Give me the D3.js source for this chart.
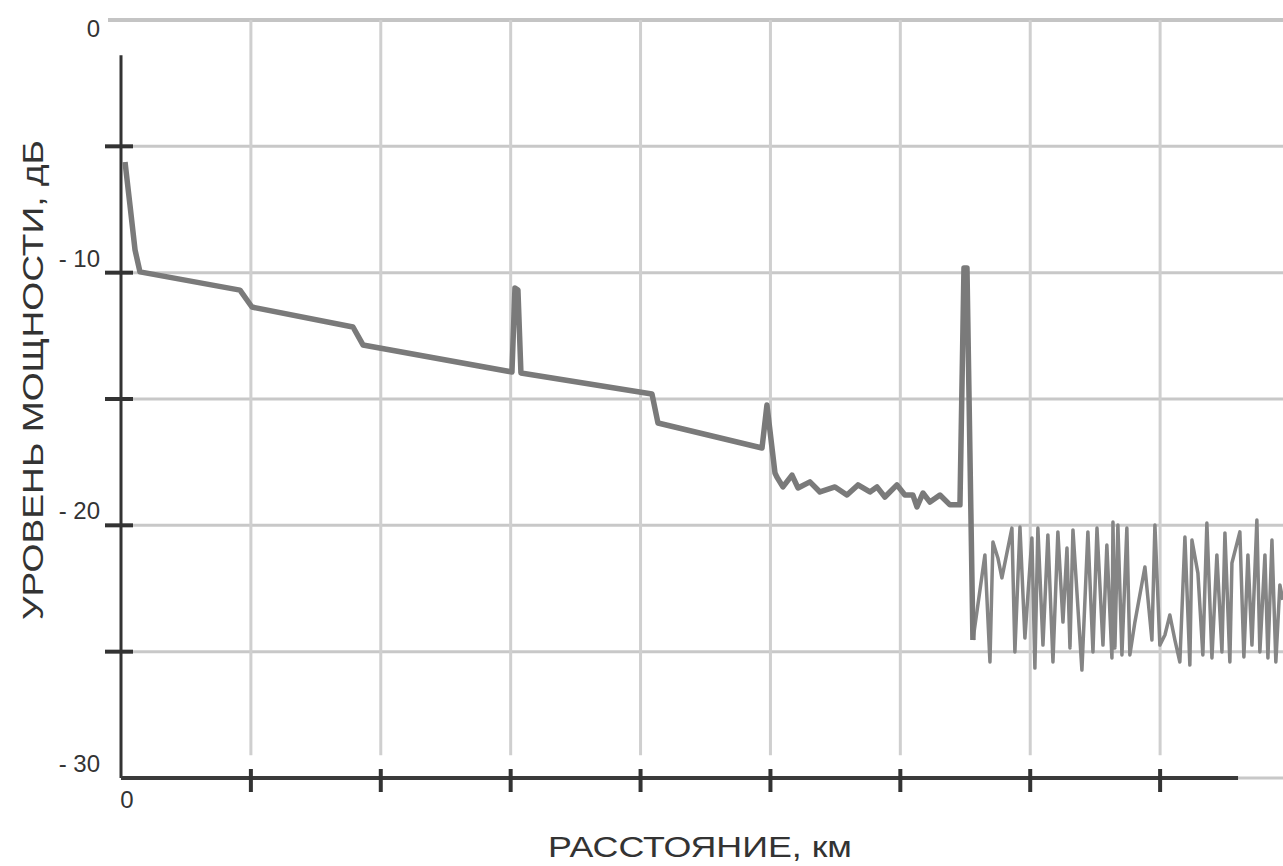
<!DOCTYPE html>
<html>
<head>
<meta charset="UTF-8" />
<title>Рефлектограмма</title>
<script src="https://cdn.jsdelivr.net/npm/d3@7"></script>
<style>
body{margin:0;background:#fff;}
text{font-family:"Liberation Sans",Arial,sans-serif;fill:#333;}
</style>
</head>
<body>
<div id="svg_container"></div>
<script type="text/javascript">
var w=1283,h=866;

var yTicks=[0,-5,-10,-15,-20,-25,-30];
var yTickLabels={'0':'0','-10':'- 10','-20':'- 20','-30':'- 30'};
var xTicks=[0,1,2,3,4,5,6,7,8];
var xTickLabels=['0'];

// основная часть трассы (до конца волокна)
var traceX=[0.031,0.069,0.108,0.146,0.916,1.008,1.786,1.863,3.010,3.033,3.056,3.079,4.088,4.134,4.935,4.973,5.035,
  5.050,5.096,5.166,5.212,5.304,5.381,5.497,5.589,5.674,5.766,5.820,5.881,5.974,6.035,6.097,6.128,6.174,6.228,6.305,6.382,6.459,
  6.490,6.513,6.559];
var traceY=[-5.62,-7.32,-9.10,-9.97,-10.69,-11.36,-12.15,-12.86,-13.93,-10.61,-10.69,-13.97,-14.80,-15.95,-16.94,-15.24,-17.93,
  -18.09,-18.48,-18.01,-18.52,-18.28,-18.68,-18.48,-18.80,-18.40,-18.68,-18.48,-18.88,-18.40,-18.80,-18.80,-19.27,-18.72,-19.08,-18.80,-19.19,-19.19,
  -9.82,-9.82,-24.54];

// шумы после конца волокна
var noiseX=[6.559,6.651,6.690,6.713,6.751,6.782,6.859,6.882,6.921,6.959,7.013,7.036,7.059,7.098,7.136,7.175,7.213,7.252,7.283,7.306,
  7.329,7.398,7.444,7.483,7.514,7.560,7.590,7.629,7.637,7.652,7.675,7.706,7.744,7.767,7.806,7.883,7.937,7.960,7.998,8.037,
  8.075,8.114,8.152,8.191,8.229,8.245,8.291,8.329,8.360,8.399,8.437,8.476,8.499,8.537,8.553,8.614,8.645,8.676,8.707,8.745,
  8.768,8.807,8.830,8.861,8.891,8.922,8.945];
var noiseY=[-24.54,-21.17,-25.41,-20.66,-21.29,-22.08,-20.11,-25.01,-20.07,-24.46,-20.50,-25.65,-20.11,-24.74,-20.38,-25.41,-20.26,-23.83,-20.90,-24.85,
  -20.18,-25.73,-20.26,-25.01,-20.11,-24.74,-20.78,-25.25,-19.87,-24.85,-19.99,-25.13,-20.11,-25.13,-23.83,-21.65,-24.54,-19.99,-24.74,-24.34,
  -23.55,-24.54,-25.41,-20.46,-25.53,-20.58,-21.89,-25.13,-19.91,-25.25,-21.17,-25.01,-20.30,-25.41,-21.49,-20.26,-25.21,-21.17,-24.74,-19.79,
  -25.01,-21.17,-25.25,-20.58,-25.41,-22.36,-22.95];

var x=d3.scaleLinear().domain([0,9]).range([121,1290]);
var y=d3.scaleLinear().domain([0,-30]).range([20,778]);

var svg=d3.select('#svg_container')
          .append('svg')
          .attr('width',w)
          .attr('height',h);

var defs=svg.append('defs');
function fade(id,x1,y1,x2,y2,color){
  var g=defs.append('linearGradient').attr('id',id)
    .attr('x1',x1).attr('y1',y1).attr('x2',x2).attr('y2',y2);
  g.append('stop').attr('offset','0%').attr('stop-color',color).attr('stop-opacity',0);
  g.append('stop').attr('offset','100%').attr('stop-color',color).attr('stop-opacity',1);
}
fade('fadeLeft',0,0,1,0,'#bbb');
fade('fadeUp',0,0,0,1,'#ccc');
fade('fadeDown',0,1,0,0,'#ddd');
fade('fadeRight',1,0,0,0,'#999');

// сетка
svg.selectAll('line.hgrid')
   .data(yTicks)
   .enter()
   .append('line')
   .attr('class','hgrid')
   .attr('x1',function(d){return d==0?x(-0.1):x(0);})
   .attr('x2',w)
   .attr('y1',function(d){return y(d);})
   .attr('y2',function(d){return y(d);})
   .attr('stroke',function(d){return d==0?'#c4c4c4':'#c8c8c8';})
   .attr('stroke-width',function(d){return d==0?4:3;});

svg.selectAll('line.hgridl')
   .data(yTicks.filter(function(d){return d<0 && d>-30;}))
   .enter()
   .append('line')
   .attr('x1',x(-0.35))
   .attr('x2',x(0))
   .attr('y1',function(d){return y(d);})
   .attr('y2',function(d){return y(d);})
   .attr('stroke','url(#fadeLeft)')
   .attr('stroke-width',3)
   .attr('opacity',0.5);

svg.selectAll('line.vgrid')
   .data(xTicks.slice(1))
   .enter()
   .append('line')
   .attr('x1',function(d){return x(d);})
   .attr('x2',function(d){return x(d);})
   .attr('y1',y(0))
   .attr('y2',y(-29.1))
   .attr('stroke','#cfcfcf')
   .attr('stroke-width',3);

// оси
svg.append('line')
   .attr('x1',x(0)).attr('x2',x(0))
   .attr('y1',y(-0.4)).attr('y2',y(-1.4))
   .attr('stroke','url(#fadeUp)').attr('stroke-width',3);
svg.append('line')
   .attr('x1',x(0)).attr('x2',x(0))
   .attr('y1',y(-1.4)).attr('y2',y(-30))
   .attr('stroke','#333').attr('stroke-width',3);
svg.append('line')
   .attr('x1',x(0)).attr('x2',x(0))
   .attr('y1',y(-30)).attr('y2',y(-32.5))
   .attr('stroke','url(#fadeDown)').attr('stroke-width',3);

svg.append('line')
   .attr('x1',8).attr('x2',x(0))
   .attr('y1',y(-30)).attr('y2',y(-30))
   .attr('stroke','url(#fadeLeft)').attr('stroke-width',4);
svg.append('line')
   .attr('x1',x(0)).attr('x2',x(8.6))
   .attr('y1',y(-30)).attr('y2',y(-30))
   .attr('stroke','#3a3a3a').attr('stroke-width',4);
svg.append('line')
   .attr('x1',x(8.6)).attr('x2',w)
   .attr('y1',y(-30)).attr('y2',y(-30))
   .attr('stroke','url(#fadeRight)').attr('stroke-width',3);

svg.selectAll('line.ytick')
   .data(yTicks.filter(function(d){return d<0 && d>-30;}))
   .enter()
   .append('line')
   .attr('x1',x(0)-16).attr('x2',x(0)+12)
   .attr('y1',function(d){return y(d);})
   .attr('y2',function(d){return y(d);})
   .attr('stroke','#333').attr('stroke-width',4);

svg.selectAll('line.xtick')
   .data(xTicks.slice(1))
   .enter()
   .append('line')
   .attr('x1',function(d){return x(d);})
   .attr('x2',function(d){return x(d);})
   .attr('y1',y(-30)-9).attr('y2',y(-30)+14)
   .attr('stroke','#333').attr('stroke-width',4);

// подписи делений
svg.selectAll('text.ylab')
   .data(yTicks.filter(function(d){return yTickLabels[String(d)];}))
   .enter()
   .append('text')
   .text(function(d){return yTickLabels[String(d)];})
   .attr('x',x(0)-21)
   .attr('y',function(d){return d==0?y(d)+17:y(d)-6;})
   .attr('text-anchor','end')
   .attr('font-size','24px');

svg.selectAll('text.xlab')
   .data(xTickLabels)
   .enter()
   .append('text')
   .text(function(d){return d;})
   .attr('x',x(0)+6)
   .attr('y',y(-30)+30)
   .attr('text-anchor','middle')
   .attr('font-size','24px');

svg.append('text')
   .text('УРОВЕНЬ МОЩНОСТИ, дБ')
   .attr('transform','translate(43,380) rotate(-90)')
   .attr('text-anchor','middle')
   .attr('font-size','30px')
   .attr('textLength',480)
   .attr('lengthAdjust','spacingAndGlyphs');

svg.append('text')
   .text('РАССТОЯНИЕ, км')
   .attr('x',700)
   .attr('y',857)
   .attr('text-anchor','middle')
   .attr('font-size','29px')
   .attr('textLength',304)
   .attr('lengthAdjust','spacingAndGlyphs');

// трасса
var line=d3.line()
  .x(function(d){return x(d[0]);})
  .y(function(d){return y(d[1]);});

svg.append('path')
   .datum(d3.zip(noiseX,noiseY))
   .attr('d',line)
   .attr('fill','none')
   .attr('stroke','#858585')
   .attr('stroke-width',3.5)
   .attr('stroke-linejoin','round');

svg.append('path')
   .datum(d3.zip(traceX,traceY))
   .attr('d',line)
   .attr('fill','none')
   .attr('stroke','#7a7a7a')
   .attr('stroke-width',5.5)
   .attr('stroke-linejoin','round');
</script>
</body>
</html>
